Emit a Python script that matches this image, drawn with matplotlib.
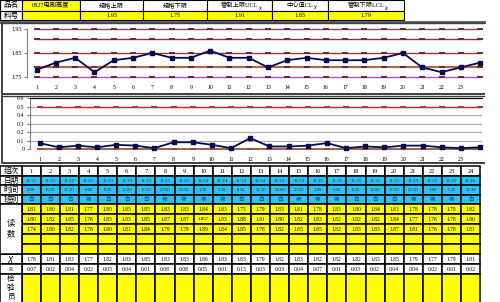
import matplotlib
matplotlib.use('Agg')
import matplotlib.pyplot as plt
from matplotlib.patches import Rectangle

plt.rcParams['font.family'] = ['Liberation Serif', 'Noto Sans CJK SC']

# header of the sheet
product = '0827电刷高度'
usl, lsl = 1.95, 1.75
ucl_x, cl_x, lcl_x = 1.91, 1.85, 1.79
ucl_r, lcl_r = 0.5, 0.0

# sample table
groups = list(range(1, 25))
dates = ['11-22'] * 3 + ['11-23'] * 6 + ['11-24'] * 6 + ['11-25'] * 6 + ['11-26'] * 3
times = ['8:00', '13:30', '17:30', '8:00', '8:00', '13:00', '17:30', '20:00', '20:30', '1:30',
         '5:30', '8:30', '11:30', '16:00', '20:30', '1:00', '5:30', '8:30', '13:00', '17:00',
         '20:30', '1:00', '5:30', '11:30']
shifts = ['白', '白', '白', '夜', '白', '白', '白', '夜', '夜', '夜', '夜', '白',
          '白', '白', '夜', '夜', '夜', '白', '白', '白', '夜', '夜', '夜', '白']
read1 = [1.81, 1.80, 1.81, 1.77, 1.80, 1.85, 1.85, 1.83, 1.83, 1.84, 1.83, 1.75,
         1.79, 1.83, 1.81, 1.78, 1.83, 1.8, 1.84, 1.83, 1.78, 1.78, 1.79, 1.82]
read2 = [1.80, 1.82, 1.85, 1.76, 1.85, 1.83, 1.85, 1.87, 1.87, 1.857, 1.83, 1.88,
         1.81, 1.8, 1.82, 1.83, 1.82, 1.82, 1.82, 1.84, 1.77, 1.76, 1.78, 1.80]
read3 = [1.74, 1.80, 1.82, 1.78, 1.80, 1.81, 1.84, 1.79, 1.79, 1.89, 1.84, 1.85,
         1.78, 1.82, 1.85, 1.85, 1.82, 1.83, 1.83, 1.87, 1.81, 1.76, 1.78, 1.81]
xbar = [1.78, 1.81, 1.83, 1.77, 1.82, 1.83, 1.85, 1.83, 1.83, 1.86, 1.83, 1.83,
        1.79, 1.82, 1.83, 1.82, 1.82, 1.82, 1.83, 1.85, 1.79, 1.77, 1.79, 1.81]
rng = [0.07, 0.02, 0.04, 0.02, 0.05, 0.04, 0.01, 0.08, 0.08, 0.05, 0.01, 0.13,
       0.03, 0.03, 0.04, 0.07, 0.01, 0.03, 0.02, 0.04, 0.04, 0.02, 0.01, 0.02]

W, H = 500, 302
YEL = '#FFFF00'
BLUE = '#2EC0F0'
fig = plt.figure(figsize=(W / 100, H / 100), dpi=100)
bg = fig.add_axes([0, 0, 1, 1])
bg.set_xlim(0, W)
bg.set_ylim(H, 0)
bg.axis('off')


def px_axes(x0, y0, x1, y1):
    return fig.add_axes([x0 / W, 1 - y1 / H, (x1 - x0) / W, (y1 - y0) / H])


def cell(x0, y0, x1, y1, fc='white', lw=0.8):
    bg.add_patch(Rectangle((x0, y0), x1 - x0, y1 - y0, fc=fc, ec='black', lw=lw))


def fmt(v):
    return f'{v:.3f}' if round(v, 2) != v else f'{v:.2f}'


# ---- top header table
cols = [0, 22, 80, 143, 207, 272, 328, 404]
heads = ['品名', product, '规格上限', '规格下限', '管制上限UCL', '中心值CL', '管制下限LCL']
vals = ['料号', '', usl, lsl, ucl_x, cl_x, lcl_x]
for i in range(7):
    x0, x1 = cols[i], cols[i + 1]
    cell(x0, 0, x1, 10.5, YEL if i == 1 else 'white')
    cell(x0, 10.5, x1, 20, YEL if i > 0 else 'white')
    t = bg.text((x0 + x1) / 2, 5.5, heads[i], fontsize=4.5 if i else 5.5, ha='center', va='center')
    if i >= 4:
        bg.annotate(r'$\bar{x}$', xy=(1, 0), xycoords=t, fontsize=3.5, va='center', ha='left')
    v = vals[i]
    bg.text((x0 + x1) / 2, 15.5, v if isinstance(v, str) else f'{v:.2f}',
            fontsize=5.5 if i == 0 else 4.5, ha='center', va='center')
bg.plot([0, 484], [21.5, 21.5], color='#555555', lw=2)

# ---- chart frames
for y0, y1 in [(22.5, 93.5), (95.5, 162.5)]:
    bg.plot([2, 2, 484], [y0, y1, y1], color='#404040', lw=1.4)
    bg.plot([2, 484], [y0, y0], color='#404040', lw=1.0)

# ---- X-bar chart
ax1 = px_axes(27, 29, 482, 77)
limits = [(usl, '#7a4a66', 1.0), (ucl_x, '#8a3040', 1.0), (cl_x, '#8a4040', 1.0),
          (lcl_x, '#b06a48', 1.6), (lsl, '#b050d0', 1.0)]
for val, c, lw in limits:
    ax1.plot(groups, [val] * len(groups), color=c, lw=lw, marker='_', ms=5, mew=1.4, mec='#6a2a3a',
             clip_on=False)
ax1.plot(groups, xbar, color='#0a0a50', lw=1.3, marker='s', ms=2.2, clip_on=False, zorder=5)
ax1.set_xlim(0.5, 24.1)
ax1.set_ylim(1.75, 1.95)
ax1.set_yticks([1.75, 1.85, 1.95])
ax1.set_yticklabels(['1.75', '1.85', '1.95'])
ax1.set_xticks(groups[:-1])
ax1.set_xticklabels([str(g) for g in groups[:-1]])
ax1.tick_params(axis='x', length=0, labelsize=4.2, pad=6)
ax1.tick_params(axis='y', length=2, labelsize=4.2, pad=2, color='#808080')
for s in ['top', 'right', 'bottom']:
    ax1.spines[s].set_visible(False)
ax1.spines['left'].set_color('#808080')
ax1.spines['left'].set_linewidth(0.8)
ax1.patch.set_alpha(0)

# ---- R chart
ax2 = px_axes(30, 98.5, 482, 149)
ax2.yaxis.grid(True, color='#b0b0b0', lw=0.9)
ax2.set_axisbelow(True)
ax2.plot(groups, [ucl_r] * len(groups), color='#c03030', lw=1.0, marker='_', ms=5, mew=1.4,
         mec='#b03040', clip_on=False)
ax2.plot(groups, [lcl_r] * len(groups), color='#8a4a30', lw=1.2, marker='_', ms=5, mew=1.4,
         mec='#9a4a40', clip_on=False)
ax2.plot(groups, rng, color='#0a0a50', lw=1.3, marker='s', ms=2.2, clip_on=False, zorder=5)
ax2.set_xlim(0.5, 24.1)
ax2.set_ylim(0, 0.6)
ax2.set_yticks([0, 0.1, 0.2, 0.3, 0.4, 0.5, 0.6])
ax2.set_yticklabels(['0', '0.1', '0.2', '0.3', '0.4', '0.5', '0.6'])
ax2.set_xticks(groups[:-1])
ax2.set_xticklabels([str(g) for g in groups[:-1]])
ax2.tick_params(axis='x', length=0, labelsize=4.2, pad=6)
ax2.tick_params(axis='y', length=2, labelsize=4.2, pad=2, color='#808080')
for s in ['right', 'bottom']:
    ax2.spines[s].set_visible(False)
ax2.spines['top'].set_color('black')
ax2.spines['left'].set_color('#808080')
ax2.spines['left'].set_linewidth(0.8)
ax2.patch.set_alpha(0)

# ---- lower table
x_edges = [21.7 + 19.1 * i for i in range(25)]
rows = [166, 175.5, 185, 194.5, 204, 214, 224, 234, 244, 254, 264, 273.5, 303]
row_fill = ['white', BLUE, BLUE, BLUE, YEL, YEL, YEL, YEL, YEL, 'white', 'white', YEL]
row_vals = [[str(g) for g in groups], dates, times, shifts,
            [fmt(v) for v in read1], [fmt(v) for v in read2], [fmt(v) for v in read3],
            [''] * 24, [''] * 24,
            [f'{v:.2f}' for v in xbar], [f'{v:.2f}' for v in rng], [''] * 24]
for r in range(len(row_fill)):
    y0, y1 = rows[r], rows[r + 1]
    for c in range(24):
        cell(x_edges[c], y0, x_edges[c + 1], y1, row_fill[r], lw=1.1)
        txt = row_vals[r][c]
        if txt:
            fs = 4.6 if r == 0 else (3.4 if r in (1, 2) else 4.0)
            if len(txt) > 4:
                fs = min(fs, 3.6)
            col = '#123a70' if r in (1, 2, 3) else 'black'
            bg.text((x_edges[c] + x_edges[c + 1]) / 2, (y0 + y1) / 2 + 0.3, txt,
                    fontsize=fs, ha='center', va='center', color=col)

# left label column
for y0, y1, lab in [(166, 175.5, '组次'), (175.5, 185, '日期'), (185, 194.5, '时间'),
                    (194.5, 204, '班别'), (254, 264, r'$\bar{X}$'), (264, 273.5, 'R')]:
    cell(0, y0, 21.7, y1, lw=1.1)
    bg.text(11, (y0 + y1) / 2 + 0.3, lab, fontsize=5.5 if lab != 'R' else 4.5,
            ha='center', va='center')
cell(0, 204, 21.7, 254, lw=1.1)
bg.text(11, 224, '读', fontsize=6, ha='center', va='center')
bg.text(11, 234, '数', fontsize=6, ha='center', va='center')
cell(0, 273.5, 21.7, 303, lw=1.1)
for y, ch in [(279, '检'), (288, '验'), (296.5, '员')]:
    bg.text(11, y, ch, fontsize=5.5, ha='center', va='center')

fig.savefig('out.png', dpi=100)
